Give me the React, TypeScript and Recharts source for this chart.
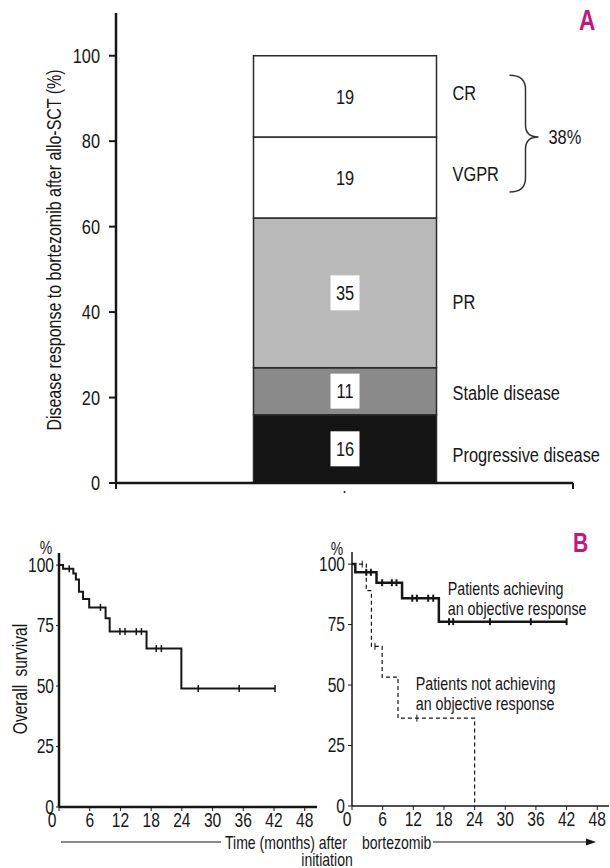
import React from "react";
import { BarChart, Bar, XAxis, YAxis, LabelList, ComposedChart, Line, Scatter } from "recharts";

const FONT = "'Liberation Sans', Arial, sans-serif";
const NARROW = 0.78;
const INK = "#161616";
const MAGENTA = "#c7157f";

// ---------- Panel A data ----------
const responseCategories = ["Progressive disease", "Stable disease", "PR", "VGPR", "CR"];
const responseValues = [16, 11, 35, 19, 19];
const responseTicks = [0, 20, 40, 60, 80, 100];
const objectiveResponseLabel = "38%";
// styles for Panel A segments
const responseColors = ["#141414", "#8a8a8a", "#b9b9b9", "#ffffff", "#ffffff"];
const responseBoxed = [true, true, true, false, false];
const responseNameDy = [6, 2, 9, -4, -4];

// ---------- Panel B data ----------
const monthTicks = [0, 6, 12, 18, 24, 30, 36, 42, 48];
const survivalTicks = [0, 25, 50, 75, 100];

const overallTimes = [0, 0.8, 2.8, 3.3, 3.9, 4.7, 5.9, 9.1, 9.9, 17.1, 23.9, 42.2];
const overallSurvival = [100, 98.5, 96.5, 94, 89, 86, 82.5, 78, 72.5, 65.5, 49, 49];
const overallCensorTimes = [2, 8.1, 11.9, 12.9, 15.1, 16.1, 19, 20, 27.2, 35.2, 42.2];
const overallCensorSurvival = [98.5, 82.5, 72.5, 72.5, 72.5, 72.5, 65.5, 65.5, 49, 49, 49];

const responderTimes = [0, 0.65, 4.8, 9.8, 17, 42];
const responderSurvival = [100, 96.6, 92.3, 85.9, 76.2, 76.2];
const responderCensorTimes = [2.8, 3.7, 5.9, 7.8, 8.7, 11.8, 12.7, 14.9, 15.9, 19, 19.8, 27, 35, 42];
const responderCensorSurvival = [96.6, 96.6, 92.3, 92.3, 92.3, 85.9, 85.9, 85.9, 85.9, 76.2, 76.2, 76.2, 76.2, 76.2];

const nonResponderTimes = [0, 2.8, 3.8, 5.9, 9, 24];
const nonResponderSurvival = [100, 89, 66, 53.3, 36.3, 0];
const nonResponderCensorTimes = [2, 4.5, 12.7];
const nonResponderCensorSurvival = [100, 66, 36.3];

const zip = (ts: number[], ss: number[]) => ts.map((t, i) => ({ t, s: ss[i] }));

const barData = [
  responseValues.reduce((acc: any, v, i) => {
    acc["s" + i] = v;
    return acc;
  }, { pos: 1 }),
];

// Narrow text: Liberation Sans squeezed horizontally (condensed look)
function NText(props: any) {
  const { x, y, anchor, baseline, size, weight, fill, rotate, dy, spacing, children } = props;
  const t = `translate(${x} ${y})${rotate ? ` rotate(${rotate})` : ""} scale(${NARROW} 1)`;
  return (
    <text
      transform={t}
      x={0}
      y={0}
      dy={dy}
      textAnchor={anchor || "start"}
      dominantBaseline={baseline || "auto"}
      fontSize={size}
      fontWeight={weight}
      fill={fill || INK}
      fontFamily={FONT}
      wordSpacing={spacing}
    >
      {children}
    </text>
  );
}

function vbOf(p: any) {
  const vb = p.viewBox && typeof p.viewBox.x === "number" ? p.viewBox : p;
  const x = Number(vb.x), y = Number(vb.y), w = Number(vb.width), h = Number(vb.height);
  return { x, top: Math.min(y, y + h), w, h: Math.abs(h) };
}

function SegmentValue(props: any) {
  const { boxed } = props;
  const { x, top, w, h } = vbOf(props);
  const cx = x + w / 2;
  const cy = top + h / 2;
  return (
    <g>
      {boxed && <rect x={cx - 14.5} y={cy - 17.5} width={29} height={35} fill="#fff" />}
      <NText x={cx} y={cy} anchor="middle" baseline="central" size={21}>
        {props.value}
      </NText>
    </g>
  );
}

function SegmentName(props: any) {
  const { name, dy, brace } = props;
  const { x, top, w, h } = vbOf(props);
  const lx = x + w + 16;
  const ly = top + h / 2 + dy;
  let braceEl = null;
  if (brace) {
    const right = x + w;
    const boundary = top + h;
    const bt = boundary - 0.76 * h;
    const bb = boundary + 0.68 * h;
    const x0 = right + 73, x1 = right + 89, x2 = right + 102;
    const d = `M ${x0} ${bt} Q ${x1} ${bt} ${x1} ${bt + 14} L ${x1} ${boundary - 12} Q ${x1} ${boundary} ${x2} ${boundary} Q ${x1} ${boundary} ${x1} ${boundary + 12} L ${x1} ${bb - 14} Q ${x1} ${bb} ${x0} ${bb}`;
    braceEl = (
      <g>
        <path d={d} fill="none" stroke="#333" strokeWidth={1.5} />
        <NText x={right + 112} y={boundary} baseline="central" size={21}>
          {objectiveResponseLabel}
        </NText>
      </g>
    );
  }
  return (
    <g>
      <NText x={lx} y={ly} baseline="central" size={21}>
        {name}
      </NText>
      {braceEl}
    </g>
  );
}

function EdgeTick(props: any) {
  const { x, y, payload } = props;
  if (payload.value === 1) {
    return <circle cx={x} cy={y + 9} r={1} fill={INK} />;
  }
  return <line x1={x} x2={x} y1={y} y2={y + 6} stroke={INK} strokeWidth={2} />;
}

function YTick(props: any) {
  const { x, y, payload, size } = props;
  return (
    <NText x={x} y={y} anchor="end" baseline="central" size={size}>
      {payload.value}
    </NText>
  );
}

function MonthTick(props: any) {
  const { x, y, payload, zeroShift } = props;
  const dx = payload.value === 0 ? zeroShift : 0;
  return (
    <NText x={x + dx} y={y} dy="0.71em" anchor="middle" size={20}>
      {payload.value}
    </NText>
  );
}

function CensorMark(props: any) {
  const { cx, cy, w } = props;
  if (cx == null || cy == null) return <g />;
  return <line x1={cx} x2={cx} y1={cy - 3.5} y2={cy + 3.5} stroke={INK} strokeWidth={w || 1.5} />;
}

function PanelA() {
  return (
    <BarChart width={610} height={500} data={barData} margin={{ top: 13, right: 37, bottom: 0, left: 0 }}>
      <XAxis
        type="number"
        dataKey="pos"
        domain={[0, 2]}
        ticks={[0, 1, 2]}
        height={17}
        tickSize={0}
        tickMargin={0}
        tickLine={false}
        axisLine={{ stroke: INK, strokeWidth: 2.5 }}
        tick={<EdgeTick />}
      />
      <YAxis
        type="number"
        domain={[0, 110]}
        ticks={responseTicks}
        width={116}
        tickSize={7}
        tickMargin={9}
        axisLine={{ stroke: INK, strokeWidth: 2.5 }}
        tickLine={{ stroke: INK, strokeWidth: 2 }}
        tick={<YTick size={21} />}
      />
      {responseCategories.map((name, i) => (
        <Bar
          key={name}
          dataKey={"s" + i}
          stackId="resp"
          fill={responseColors[i]}
          stroke="#2a2a2a"
          strokeWidth={1.5}
          barSize={183}
          isAnimationActive={false}
        >
          <LabelList dataKey={"s" + i} content={(p: any) => <SegmentValue {...p} boxed={responseBoxed[i]} />} />
          <LabelList
            dataKey={"s" + i}
            content={(p: any) => (
              <SegmentName {...p} name={name} dy={responseNameDy[i]} brace={i === responseCategories.length - 1} />
            )}
          />
        </Bar>
      ))}
    </BarChart>
  );
}

function PanelBLeft() {
  return (
    <ComposedChart width={320} height={300} margin={{ top: 13, right: 3, bottom: 0, left: 0 }}>
      <XAxis
        type="number"
        dataKey="t"
        domain={[0, 50.4]}
        ticks={monthTicks}
        allowDataOverflow
        height={33}
        tickSize={4}
        tickMargin={2}
        axisLine={{ stroke: INK, strokeWidth: 2.5 }}
        tickLine={{ stroke: INK }}
        tick={<MonthTick zeroShift={-7} />}
      />
      <YAxis
        type="number"
        dataKey="s"
        domain={[0, 105]}
        ticks={survivalTicks}
        allowDataOverflow
        width={59}
        tickSize={3}
        tickMargin={2}
        axisLine={{ stroke: INK, strokeWidth: 2.5 }}
        tickLine={{ stroke: INK }}
        tick={<YTick size={20} />}
      />
      <Line
        data={zip(overallTimes, overallSurvival)}
        dataKey="s"
        type="stepAfter"
        stroke={INK}
        strokeWidth={2}
        dot={false}
        isAnimationActive={false}
      />
      <Scatter
        data={zip(overallCensorTimes, overallCensorSurvival)}
        dataKey="s"
        shape={(p: any) => <CensorMark {...p} w={1.5} />}
        isAnimationActive={false}
      />
    </ComposedChart>
  );
}

function PanelBRight() {
  return (
    <ComposedChart width={310} height={300} margin={{ top: 12, right: 1, bottom: 0, left: 0 }}>
      <XAxis
        type="number"
        dataKey="t"
        domain={[0, 50.3]}
        ticks={monthTicks}
        allowDataOverflow
        height={34}
        tickSize={4}
        tickMargin={2}
        axisLine={{ stroke: INK, strokeWidth: 1.5 }}
        tickLine={{ stroke: INK }}
        tick={<MonthTick zeroShift={-5} />}
      />
      <YAxis
        type="number"
        dataKey="s"
        domain={[0, 105]}
        ticks={survivalTicks}
        allowDataOverflow
        width={52}
        tickSize={4}
        tickMargin={3}
        axisLine={{ stroke: INK, strokeWidth: 1.5 }}
        tickLine={{ stroke: INK }}
        tick={<YTick size={20} />}
      />
      <Line
        data={zip(nonResponderTimes, nonResponderSurvival)}
        dataKey="s"
        type="stepAfter"
        stroke={INK}
        strokeWidth={1.2}
        strokeDasharray="4 3"
        dot={false}
        isAnimationActive={false}
      />
      <Line
        data={zip(responderTimes, responderSurvival)}
        dataKey="s"
        type="stepAfter"
        stroke={INK}
        strokeWidth={2.5}
        dot={false}
        isAnimationActive={false}
      />
      <Scatter
        data={zip(responderCensorTimes, responderCensorSurvival)}
        dataKey="s"
        shape={(p: any) => <CensorMark {...p} w={2} />}
        isAnimationActive={false}
      />
      <Scatter
        data={zip(nonResponderCensorTimes, nonResponderCensorSurvival)}
        dataKey="s"
        shape={(p: any) => <CensorMark {...p} w={1} />}
        isAnimationActive={false}
      />
    </ComposedChart>
  );
}

function Overlay() {
  return (
    <svg width={610} height={868} style={{ position: "absolute", left: 0, top: 0, pointerEvents: "none" }}>
      <NText x={579} y={30} size={29} weight="bold" fill={MAGENTA}>A</NText>
      <NText x={54} y={250} rotate={-90} anchor="middle" baseline="central" size={20.5}>
        Disease response to bortezomib after allo-SCT (%)
      </NText>
      <NText x={573} y={552} size={27} weight="bold" fill={MAGENTA}>B</NText>
      <NText x={46} y={547} anchor="middle" baseline="central" size={18}>%</NText>
      <NText x={337} y={548} anchor="middle" baseline="central" size={18}>%</NText>
      <NText x={20} y={679} rotate={-90} anchor="middle" baseline="central" size={20} spacing={5}>
        Overall survival
      </NText>
      <NText x={447.7} y={588} baseline="central" size={18.3}>Patients achieving</NText>
      <NText x={447.7} y={608} baseline="central" size={18.3}>an objective response</NText>
      <NText x={415.7} y={683} baseline="central" size={18.3}>Patients not achieving</NText>
      <NText x={415.7} y={703} baseline="central" size={18.3}>an objective response</NText>
      <line x1={61} x2={221} y1={842} y2={842} stroke={INK} strokeWidth={1.2} />
      <NText x={225} y={842} baseline="central" size={18}>Time (months) after</NText>
      <NText x={362} y={842} baseline="central" size={18}>bortezomib</NText>
      <line x1={433} x2={590} y1={842} y2={842} stroke={INK} strokeWidth={1.2} />
      <path d="M 596 842 L 586 838.5 L 586 845.5 Z" fill={INK} />
      <NText x={327} y={859} anchor="middle" baseline="central" size={18}>initiation</NText>
    </svg>
  );
}

export default function App() {
  return (
    <div
      style={{
        position: "absolute",
        left: 0,
        top: 0,
        width: 610,
        height: 868,
        background: "#fff",
        fontFamily: FONT,
        overflow: "hidden",
      }}
    >
      <div style={{ position: "absolute", left: 0, top: 0 }}>
        <PanelA />
      </div>
      <div style={{ position: "absolute", left: 0, top: 540 }}>
        <PanelBLeft />
      </div>
      <div style={{ position: "absolute", left: 300, top: 540 }}>
        <PanelBRight />
      </div>
      <Overlay />
    </div>
  );
}
